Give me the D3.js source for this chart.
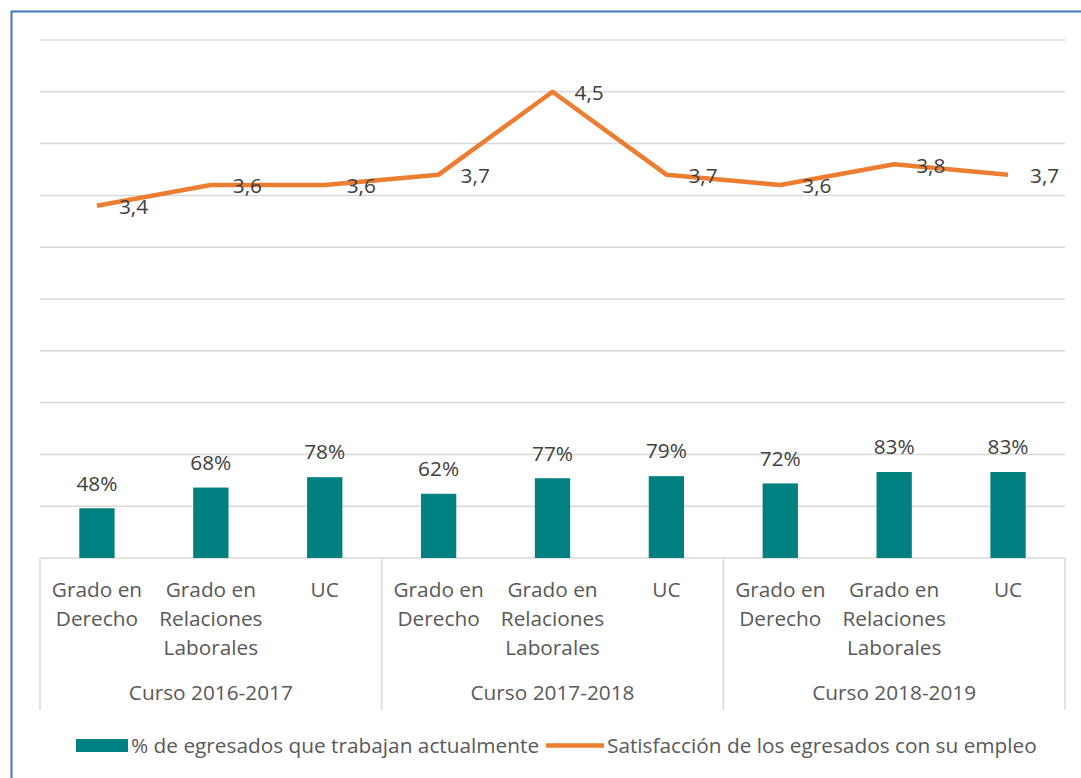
<!DOCTYPE html>
<html><head><meta charset="utf-8">
<script src="https://cdn.jsdelivr.net/npm/d3@7"></script>
<style>body{margin:0;background:#fff}svg{display:block}text{font-family:"Open Sans",sans-serif}</style>
</head><body><svg id="c" width="1081" height="778"></svg>
<script>
const groups = ["Curso 2016-2017","Curso 2017-2018","Curso 2018-2019"];
const programs = ["Grado en Derecho","Grado en Relaciones Laborales","UC"];
const employed = [0.48,0.68,0.78,0.62,0.77,0.79,0.72,0.83,0.83];
const satisfaction = [3.4,3.6,3.6,3.7,4.5,3.7,3.6,3.8,3.7];
const yTicks = [0,0.5,1,1.5,2,2.5,3,3.5,4,4.5,5];
const seriesNames = ["% de egresados que trabajan actualmente","Satisfacción de los egresados con su empleo"];

const cats = [];
groups.forEach((g,gi)=>programs.forEach((p,pi)=>cats.push({id:gi*3+pi,g,p})));

const svg = d3.select("#c");
const fs = 20.8;
const L=40,R=1065,T=40,B=558;
const x = d3.scaleBand().domain(cats.map(d=>d.id)).range([L,R]).paddingInner(0.69).paddingOuter(0.345);
const xc = d3.scaleBand().domain(cats.map(d=>d.id)).range([L,R]);
const y = d3.scaleLinear().domain([0,5]).range([B,T]);

// border
svg.append("path").attr("d","M11.5,1000 V11.5 H2000").attr("fill","none").attr("stroke","#4472C4").attr("stroke-width",2);

// gridlines
svg.append("g").selectAll("line").data(yTicks.slice(1)).join("line")
  .attr("x1",L).attr("x2",R).attr("y1",d=>y(d)).attr("y2",d=>y(d))
  .attr("stroke","#d9d9d9").attr("stroke-width",1.5);

// category axis
svg.append("line").attr("x1",L).attr("x2",R).attr("y1",B).attr("y2",B).attr("stroke","#d9d9d9").attr("stroke-width",1.5);
const gScale = d3.scaleBand().domain(groups).range([L,R]);
svg.append("g").selectAll("line").data([...groups.map(g=>gScale(g)),R]).join("line")
  .attr("x1",d=>d).attr("x2",d=>d).attr("y1",B).attr("y2",710).attr("stroke","#d9d9d9").attr("stroke-width",1.5);

// bars
svg.append("g").selectAll("rect").data(cats).join("rect")
  .attr("x",d=>x(d.id)).attr("width",x.bandwidth())
  .attr("y",d=>y(employed[d.id])).attr("height",d=>B-y(employed[d.id]))
  .attr("fill","#008080");
svg.append("g").selectAll("text").data(cats).join("text")
  .attr("x",d=>xc(d.id)+xc.bandwidth()/2).attr("y",d=>y(employed[d.id])-25)
  .attr("dy","0.35em").attr("text-anchor","middle").attr("font-size",fs).attr("fill","#404040")
  .text(d=>Math.round(employed[d.id]*100)+"%");

// line
const line = d3.line().x(d=>xc(d.id)+xc.bandwidth()/2).y(d=>y(satisfaction[d.id]));
svg.append("path").datum(cats).attr("d",line).attr("fill","none").attr("stroke","#ED7D31").attr("stroke-width",4.5).attr("stroke-linejoin","round");
svg.append("g").selectAll("text").data(cats).join("text")
  .attr("x",d=>xc(d.id)+xc.bandwidth()/2+22).attr("y",d=>y(satisfaction[d.id])+1)
  .attr("dy","0.35em").attr("font-size",fs).attr("fill","#404040")
  .text(d=>d3.format(".1f")(satisfaction[d.id]).replace(".",","));

// category labels with wrap
const lab = svg.append("g").attr("font-size",fs).attr("fill","#595959").attr("text-anchor","middle");
cats.forEach(d=>{
  const t = lab.append("text").attr("x",xc(d.id)+xc.bandwidth()/2).attr("y",590).attr("dy","0.35em");
  const words = d.p.split(" "); let lines=[]; let cur="";
  words.forEach(w=>{
    const test = cur? cur+" "+w : w;
    t.text(test);
    if (t.node().getComputedTextLength()>112 && cur){lines.push(cur);cur=w;} else cur=test;
  });
  lines.push(cur); t.text(null);
  lines.forEach((l,i)=>t.append("tspan").attr("x",xc(d.id)+xc.bandwidth()/2).attr("y",590+i*29).attr("dy","0.35em").text(l));
});
lab.selectAll(".grp").data(groups).join("text").attr("class","grp")
  .attr("x",g=>gScale(g)+gScale.bandwidth()/2).attr("y",693).attr("dy","0.35em").text(g=>g);

// legend
const lg = svg.append("g").attr("font-size",fs).attr("fill","#595959");
lg.append("rect").attr("x",76).attr("y",739).attr("width",52).attr("height",13).attr("fill","#008080");
lg.append("text").attr("x",131).attr("y",746).attr("dy","0.35em").text(seriesNames[0]);
lg.append("line").attr("x1",546).attr("x2",604).attr("y1",745.5).attr("y2",745.5).attr("stroke","#ED7D31").attr("stroke-width",4.5);
lg.append("text").attr("x",607).attr("y",746).attr("dy","0.35em").text(seriesNames[1]);
</script></body></html>
